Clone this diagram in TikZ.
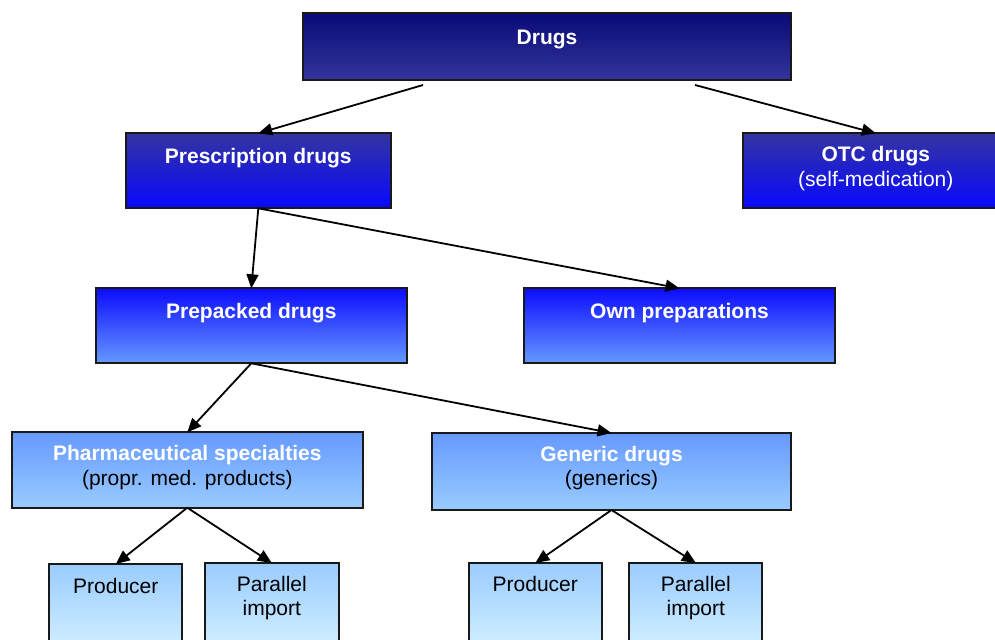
\documentclass[tikz,border=0pt]{standalone}
\usepackage{fontspec}
\setmainfont{Liberation Sans}
\usetikzlibrary{arrows.meta,calc}

\definecolor{navyA}{RGB}{10,10,120}
\definecolor{navyB}{RGB}{52,52,155}
\definecolor{blueA}{RGB}{52,52,160}
\definecolor{blueB}{RGB}{8,8,255}
\definecolor{midA}{RGB}{12,12,255}
\definecolor{midB}{RGB}{102,153,255}
\definecolor{lightA}{RGB}{102,153,255}
\definecolor{lightB}{RGB}{153,204,255}
\definecolor{paleA}{RGB}{153,204,255}
\definecolor{paleB}{RGB}{206,236,255}

\tikzset{
  box/.style={draw=black!90, line width=1pt, inner sep=0pt, outer sep=0pt},
  lvlA/.style={box, top color=navyA, bottom color=navyB},
  lvlB/.style={box, top color=blueA, bottom color=blueB},
  lvlC/.style={box, top color=midA, bottom color=midB},
  lvlD/.style={box, top color=lightA, bottom color=lightB},
  lvlE/.style={box, top color=paleA, bottom color=paleB},
  title/.style={anchor=base, inner sep=0pt, font=\fontsize{10.5pt}{12pt}\selectfont\bfseries, text=white},
  sub/.style={anchor=base, inner sep=0pt, font=\fontsize{10.5pt}{12pt}\selectfont},
  arr/.style={draw=black, line width=0.9pt, -{Triangle[length=7pt,width=6pt]}}
}

\begin{document}
\begin{tikzpicture}[x=0.5pt, y=-0.5pt]
\useasboundingbox (0,0) rectangle (995,639);
\clip (0,0) rectangle (995,639);

% boxes
\node[lvlA, minimum width=244pt, minimum height=33.5pt] (drugs) at (547,46.5) {};
\node[lvlB, minimum width=132.5pt, minimum height=37.5pt] (presc) at (258.3,170.8) {};
\node[lvlB, minimum width=132.5pt, minimum height=37.5pt] (otc) at (875.8,170.8) {};
\node[lvlC, minimum width=155.3pt, minimum height=37.5pt] (prepack) at (251.3,325.8) {};
\node[lvlC, minimum width=155.5pt, minimum height=37.5pt] (own) at (679.5,325.8) {};
\node[lvlD, minimum width=175.3pt, minimum height=37.7pt] (pharma) at (187.3,470) {};
\node[lvlD, minimum width=179.5pt, minimum height=38.5pt] (generic) at (611.5,471.5) {};
\node[lvlE, minimum width=66.5pt, minimum height=39pt] (prodL) at (115.8,603) {};
\node[lvlE, minimum width=67.2pt, minimum height=39pt] (parL) at (271.8,602) {};
\node[lvlE, minimum width=66.7pt, minimum height=39pt] (prodR) at (535.3,602) {};
\node[lvlE, minimum width=66.5pt, minimum height=39pt] (parR) at (695.8,602) {};

% texts
\node[title] (drugsT) at ($(drugs.north)+(0,31)$) {Drugs};
\node[title] (prescT) at ($(presc.north)+(0,30)$) {Prescription drugs};
\node[title] (otcT) at ($(otc.north)+(0,28.5)$) {OTC drugs};
\node[sub, text=white] (otcS) at ($(otc.north)+(0,53.5)$) {(self-medication)};
\node[title] (prepackT) at ($(prepack.north)+(0,30)$) {Prepacked drugs};
\node[title] (ownT) at ($(own.north)+(0,30)$) {Own preparations};
\node[title] (pharmaT) at ($(pharma.north)+(0,28.5)$) {Pharmaceutical specialties};
\node[sub] (pharmaS) at ($(pharma.north)+(0,53)$) {(propr. med. products)};
\node[title] (genericT) at ($(generic.north)+(0,28)$) {Generic drugs};
\node[sub] (genericS) at ($(generic.north)+(0,52.5)$) {(generics)};
\node[sub] (prodLT) at ($(prodL.north)+(0,29)$) {Producer};
\node[sub] (parLT) at ($(parL.north)+(0,28.7)$) {Parallel};
\node[sub] (parLS) at ($(parL.north)+(0,52.5)$) {import};
\node[sub] (prodRT) at ($(prodR.north)+(0,28.7)$) {Producer};
\node[sub] (parRT) at ($(parR.north)+(0,28.7)$) {Parallel};
\node[sub] (parRS) at ($(parR.north)+(0,52.5)$) {import};

% connectors
\coordinate (dL) at (423,85);
\coordinate (dR) at (695,85);
\draw[arr] (dL) -- (presc.north);
\draw[arr] (dR) -- (otc.north);
\draw[arr] (presc.south) -- (prepack.north);
\draw[arr] (presc.south) -- (own.north);
\draw[arr] (prepack.south) -- (pharma.north);
\draw[arr] (prepack.south) -- (generic.north);
\draw[arr] (pharma.south) -- (prodL.north);
\draw[arr] (pharma.south) -- (parL.north);
\draw[arr] (generic.south) -- (prodR.north);
\draw[arr] (generic.south) -- (parR.north);
\end{tikzpicture}
\end{document}
